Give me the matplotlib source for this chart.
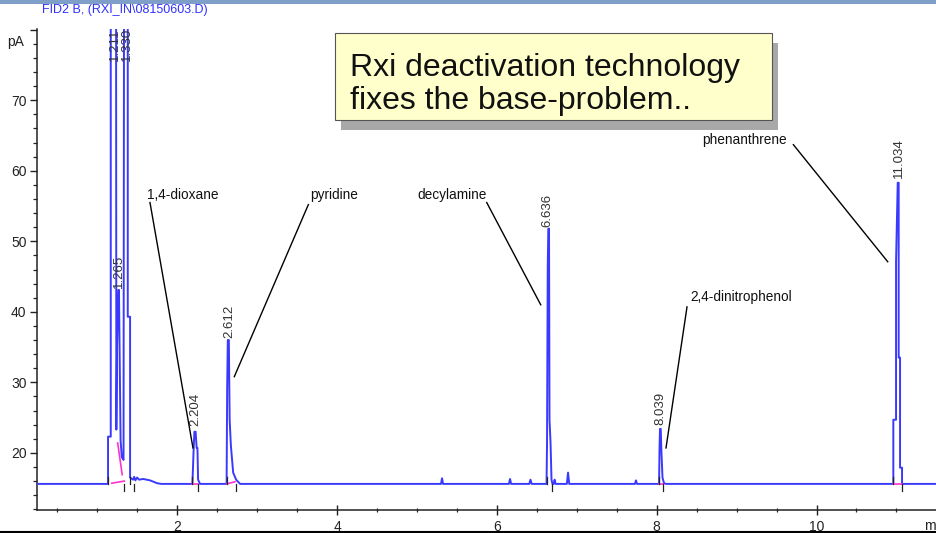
import matplotlib
matplotlib.use("Agg")
import matplotlib.pyplot as plt
from matplotlib import font_manager
from matplotlib.patches import Rectangle
from matplotlib.ticker import MultipleLocator

W, H = 936, 533

# chromatogram trace: time (min), signal (pA)
trace_t = [0.244, 1.133, 1.133, 1.167, 1.167, 1.233, 1.237, 1.246, 1.262, 1.270,
           1.277, 1.290, 1.305, 1.327, 1.334, 1.380, 1.380, 1.409, 1.409, 1.446,
           1.460, 1.475, 1.497, 1.522, 1.572, 1.659, 1.747, 1.800,
           2.189, 2.204, 2.214, 2.229, 2.242, 2.252, 2.260, 2.285,
           2.617, 2.624, 2.632, 2.645, 2.655, 2.670, 2.699, 2.736, 2.786,
           5.300, 5.313, 5.326, 6.150, 6.164, 6.178, 6.405, 6.420, 6.435,
           6.621, 6.627, 6.636, 6.643, 6.652, 6.658, 6.671, 6.683, 6.695,
           6.710, 6.722, 6.734, 6.875, 6.890, 6.905, 7.727, 7.740, 7.753,
           8.029, 8.035, 8.041, 8.050, 8.057, 8.072, 8.091, 8.116,
           10.961, 10.961, 10.995, 10.995, 11.016, 11.028, 11.028, 11.045,
           11.045, 11.070, 11.070, 11.495]
trace_pa = [15.6, 15.6, 22.3, 22.3, 95.0, 95.0, 23.3, 35.3, 43.1, 43.1,
            35.3, 21.8, 19.4, 19.0, 95.0, 95.0, 39.3, 39.3, 16.5, 16.2,
            16.6, 16.1, 16.5, 16.2, 16.3, 16.1, 15.7, 15.6,
            15.6, 20.4, 23.0, 23.0, 20.7, 20.7, 16.2, 15.6,
            15.6, 29.2, 36.0, 36.0, 24.7, 21.1, 17.2, 16.2, 15.6,
            15.6, 16.4, 15.6, 15.6, 16.3, 15.6, 15.6, 16.2, 15.6,
            15.6, 21.4, 46.4, 51.8, 51.8, 24.7, 21.4, 16.2, 15.6,
            15.6, 16.2, 15.6, 15.6, 17.2, 15.6, 15.6, 16.1, 15.6,
            15.6, 20.7, 23.4, 23.4, 20.7, 16.5, 15.7, 15.6,
            15.6, 24.7, 24.7, 47.1, 58.3, 58.3, 33.5, 33.5,
            17.9, 17.9, 15.6, 15.6]

# integration baselines (magenta)
base_t = [[1.179, 1.337], [1.254, 1.310], [2.190, 2.259], [2.616, 2.722],
          [8.029, 8.080], [10.961, 11.070]]
base_pa = [[15.7, 16.0], [21.4, 16.9], [15.6, 15.6], [15.6, 15.9],
           [15.6, 15.6], [15.6, 15.6]]
peak_start = [1.133, 1.409, 2.189, 2.617, 6.621, 8.029, 10.961]
peak_end = [1.337, 1.460, 2.262, 2.736, 6.690, 8.080, 11.070]

# retention time labels: text, time, signal at label foot
rt_text = ["1.211", "1.330", "1.265", "2.204", "2.612", "6.636", "8.039", "11.034"]
rt_t = [1.220, 1.370, 1.274, 2.222, 2.651, 6.631, 8.041, 11.034]
rt_pa = [75.5, 75.5, 43.4, 23.8, 36.3, 52.0, 24.0, 59.0]

# compound names: text, text anchor, leader start, leader end, alignment
names = ["1,4-dioxane", "pyridine", "decylamine", "2,4-dinitrophenol", "phenanthrene"]
name_xy = [(1.617, 56.6), (3.661, 56.6), (5.876, 56.6), (8.417, 42.1), (9.631, 64.4)]
lead_from = [(1.658, 55.5), (3.640, 55.2), (5.872, 55.5), (8.379, 40.7), (9.710, 63.7)]
lead_to = [(2.196, 20.7), (2.713, 30.8), (6.548, 41.0), (8.116, 20.7), (10.891, 47.1)]
name_ha = ["left", "left", "right", "left", "right"]

x_major = [2, 4, 6, 8, 10]
y_major = [20, 30, 40, 50, 60, 70, 80]
y_labels = ["20", "30", "40", "50", "60", "70", ""]

avail = {f.name for f in font_manager.fontManager.ttflist}
narrow = "Liberation Sans Narrow" in avail
lab_family = ["Liberation Sans Narrow", "Liberation Sans"] if narrow else ["Liberation Sans"]
lab_size = 12 if narrow else 9.8
plt.rcParams["font.family"] = ["Liberation Sans", "DejaVu Sans"]


def px(x, y):
    return x / W, 1 - y / H


fig = plt.figure(figsize=(W / 100, H / 100), dpi=100)
ax = fig.add_axes([37 / W, 23 / H, 1 - 37 / W, (510 - 29) / H])
ax.set_xlim(0.244, 11.495)
ax.set_ylim(11.9, 80.1)

ax.plot(trace_t, trace_pa, color="#3a3aff", lw=1.4, zorder=3)
for bt, bp in zip(base_t, base_pa):
    ax.plot(bt, bp, color="#ff33cc", lw=1.2, zorder=4)
for t in peak_start:
    ax.plot([t, t], [15.6, 16.6], color="#222222", lw=0.9, zorder=5)
for t in peak_end:
    ax.plot([t, t], [15.6, 14.6], color="#222222", lw=0.9, zorder=5)

for txt, t, p in zip(rt_text, rt_t, rt_pa):
    ax.text(t, p, txt, rotation=90, ha="center", va="bottom", fontsize=9.5,
            color="#333333", clip_on=True, zorder=6)

for txt, xy, a, b, ha in zip(names, name_xy, lead_from, lead_to, name_ha):
    ax.text(xy[0], xy[1], txt, ha=ha, va="center", fontsize=lab_size,
            family=lab_family, color="#111111")
    ax.plot([a[0], b[0]], [a[1], b[1]], color="black", lw=1.0, zorder=6)

for s in ["top", "right"]:
    ax.spines[s].set_visible(False)
for s in ["left", "bottom"]:
    ax.spines[s].set_color("#222222")
    ax.spines[s].set_linewidth(1.1)
ax.set_xticks(x_major)
ax.xaxis.set_minor_locator(MultipleLocator(0.5))
ax.set_yticks(y_major)
ax.set_yticklabels(y_labels)
ax.yaxis.set_minor_locator(MultipleLocator(2))
ax.tick_params(axis="x", which="major", direction="inout", length=7, width=1.0,
               pad=3.5, labelsize=10, colors="#222222")
ax.tick_params(axis="x", which="minor", direction="inout", length=3.5, width=0.9,
               colors="#222222")
ax.tick_params(axis="y", which="major", direction="out", length=5, width=1.0,
               pad=2.5, labelsize=10, colors="#222222")
ax.tick_params(axis="y", which="minor", direction="out", length=3, width=0.9,
               colors="#222222")
ax.patch.set_alpha(0)

fig.text(*px(7, 42), "pA", ha="left", va="center", fontsize=10, color="#222222")
fig.text(*px(924, 526), "m", ha="left", va="center", fontsize=10, color="#222222")
fig.text(*px(42, 10), "FID2 B, (RXI_IN\\08150603.D)", ha="left", va="center",
         fontsize=9, color="#3030ff")

# header strip and bottom rule
fig.add_artist(Rectangle(px(0, 4), 1, 4 / H, transform=fig.transFigure,
                         facecolor="#7f9fc8", edgecolor="none"))
fig.add_artist(plt.Line2D([0, 1], [1 / H, 1 / H], transform=fig.transFigure,
                          color="black", lw=1.5))

# callout box with shadow
bx0, by0, bx1, by1 = 335, 33, 772, 120
fig.add_artist(Rectangle(px(bx0 + 6, by1 + 10), (bx1 - bx0) / W, (by1 - by0) / H,
                         transform=fig.transFigure, facecolor="#a8a8a8",
                         edgecolor="none", zorder=8))
fig.add_artist(Rectangle(px(bx0, by1), (bx1 - bx0) / W, (by1 - by0) / H,
                         transform=fig.transFigure, facecolor="#ffffcc",
                         edgecolor="#555555", lw=0.8, zorder=9))
fig.text(*px(350, 76), "Rxi deactivation technology", ha="left", va="baseline",
         fontsize=23, color="#111111", zorder=10)
fig.text(*px(350, 109), "fixes the base-problem..", ha="left", va="baseline",
         fontsize=23, color="#111111", zorder=10)

fig.savefig("out.png", dpi=100)
